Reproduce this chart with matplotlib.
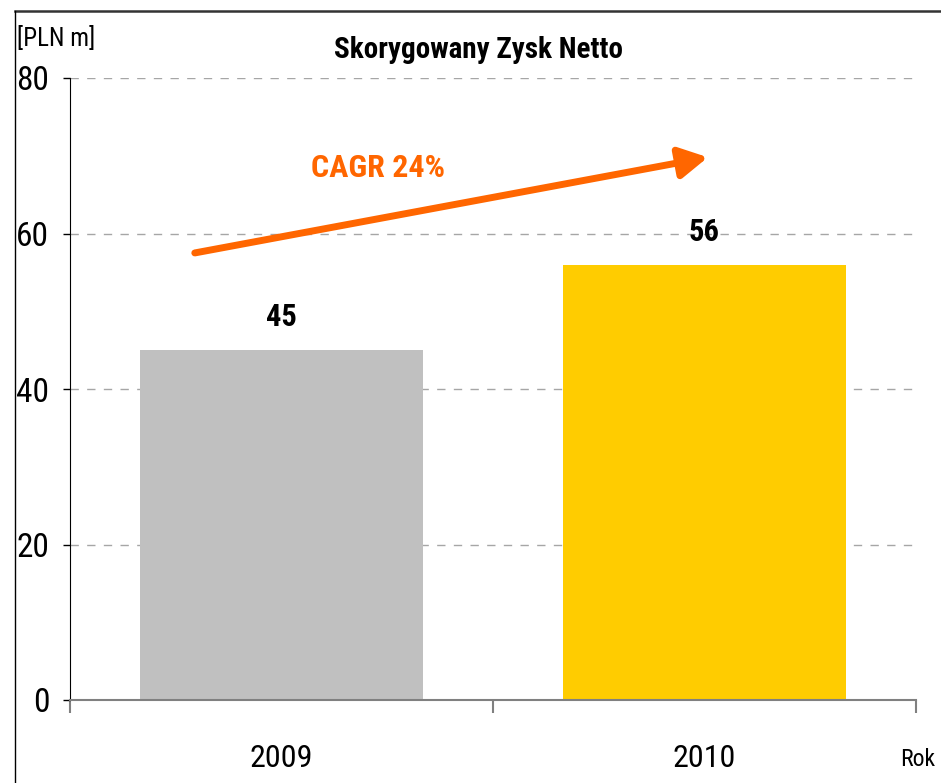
import numpy as np
import matplotlib.pyplot as plt
from matplotlib.lines import Line2D

plt.rcParams['font.family'] = ['Roboto Condensed', 'Archivo Narrow', 'Liberation Sans', 'DejaVu Sans']

lata = ['2009', '2010']
zysk = [45, 56]
kolory = ['#C0C0C0', '#FFCC00']
cagr_tekst = 'CAGR 24%'

fig = plt.figure(figsize=(9.41, 7.83), dpi=100)
ax = fig.add_axes([70 / 941, 1 - 700 / 783, 846 / 941, 622 / 783])

xs = np.arange(len(lata))
ax.bar(xs, zysk, width=0.667, color=kolory, zorder=2)
for x, v in zip(xs, zysk):
    ax.text(x, v + 4.2, str(v), ha='center', va='center', fontsize=22,
            fontweight='bold', color='black')

ax.set_xlim(-0.5, 1.5)
ax.set_ylim(0, 80)
ax.set_yticks([0, 20, 40, 60, 80])
ax.yaxis.grid(True, color='#A6A6A6', linestyle=(0, (6, 6)), linewidth=1.0, zorder=0)
ax.tick_params(axis='y', labelsize=24, length=5, width=1, pad=10, direction='out')

ax.set_xticks(xs)
ax.set_xticklabels(lata)
ax.set_xticks([-0.5, 0.5, 1.5], minor=True)
ax.tick_params(axis='x', which='major', length=0, labelsize=23, pad=32)
ax.tick_params(axis='x', which='minor', length=9, width=1.5, color='#808080')

for s in ['top', 'right']:
    ax.spines[s].set_visible(False)
ax.spines['left'].set_color('black')
ax.spines['bottom'].set_color('#808080')
ax.spines['bottom'].set_linewidth(1.5)

# strzalka CAGR
ax.annotate('', xy=(1.008, 69.8), xytext=(-0.205, 57.5),
            arrowprops=dict(arrowstyle='-|>,head_length=1.0,head_width=0.55',
                            mutation_scale=17, color='#FF6600', lw=5,
                            shrinkA=0, shrinkB=0))
ax.text(0.228, 68.4, cagr_tekst, ha='center', va='center', fontsize=23,
        fontweight='bold', color='#FF6600')

fig.text(478 / 941, 1 - 50 / 783, 'Skorygowany Zysk Netto', ha='center', va='center',
         fontsize=21, fontweight='bold')
fig.text(17 / 941, 1 - 38 / 783, '[PLN m]', ha='left', va='center', fontsize=18)
fig.text(935 / 941, 1 - 760 / 783, 'Rok', ha='right', va='center', fontsize=17)

# ramka
fig.add_artist(Line2D([15 / 941, 1], [1 - 11 / 783, 1 - 11 / 783], color='#333333', lw=1.8))
fig.add_artist(Line2D([15 / 941, 15 / 941], [0, 1 - 11 / 783], color='black', lw=1))

fig.savefig('out.png', dpi=100)
